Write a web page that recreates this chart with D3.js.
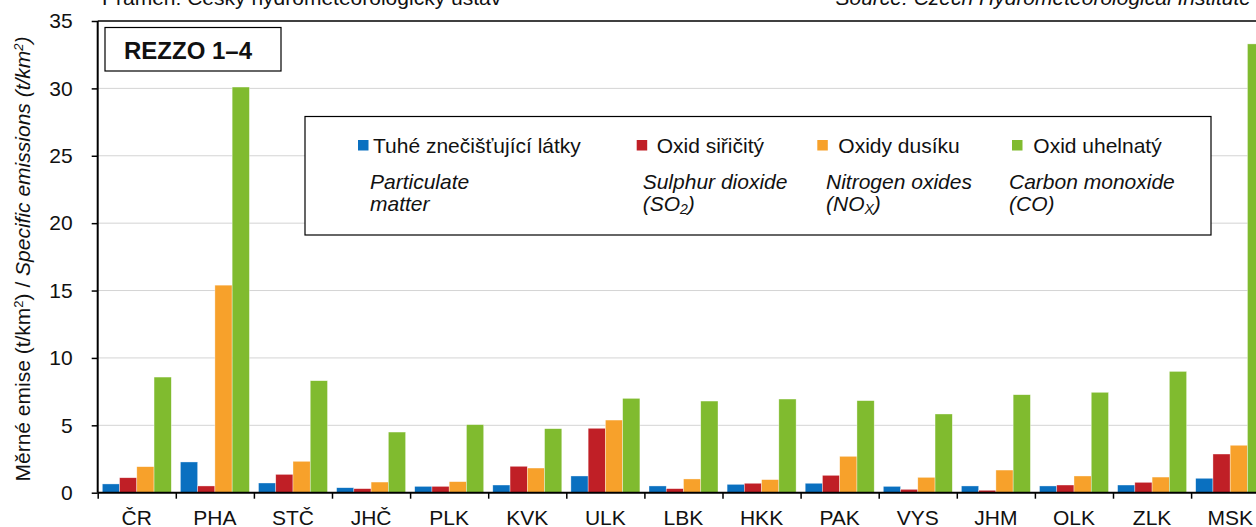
<!DOCTYPE html>
<html>
<head>
<meta charset="utf-8">
<script src="https://cdn.jsdelivr.net/npm/d3@7"></script>
<style>
  body { margin: 0; background: #fff; }
  svg { display: block; font-family: Arial, "Liberation Sans", sans-serif; }
</style>
</head>
<body>
<div id="chart"></div>
<script>
// data
const regions = ["ČR", "PHA", "STČ", "JHČ", "PLK", "KVK", "ULK", "LBK", "HKK", "PAK", "VYS", "JHM", "OLK", "ZLK", "MSK"];
const particulate = [0.65, 2.28, 0.72, 0.37, 0.47, 0.57, 1.24, 0.50, 0.62, 0.70, 0.47, 0.50, 0.50, 0.57, 1.07];
const sulphur     = [1.11, 0.50, 1.36, 0.30, 0.47, 1.96, 4.78, 0.30, 0.70, 1.29, 0.25, 0.18, 0.57, 0.77, 2.87];
const nitrogen    = [1.93, 15.4, 2.33, 0.79, 0.82, 1.83, 5.39, 1.02, 0.97, 2.70, 1.14, 1.68, 1.24, 1.16, 3.52];
const carbon      = [8.58, 30.1, 8.31, 4.50, 5.05, 4.75, 7.00, 6.80, 6.95, 6.83, 5.84, 7.27, 7.45, 9.00, 33.3];
const seriesCz = ["Tuhé znečišťující látky", "Oxid siřičitý", "Oxidy dusíku", "Oxid uhelnatý"];
const seriesEn = [["Particulate", "matter"], ["Sulphur dioxide", "(SO|2|)"], ["Nitrogen oxides", "(NO|X|)"], ["Carbon monoxide", "(CO)"]];
const colors = ["#0a70c0", "#c01f26", "#f7a12b", "#80bb2f"];
const yTicks = [0, 5, 10, 15, 20, 25, 30, 35];

const series = [particulate, sulphur, nitrogen, carbon];

// dimensions
const W = 1256, H = 527;
const margin = {top: 21, left: 97.7};
const width = 1171.5, height = 471.7;
const fs = "21px";

const svg = d3.select("#chart").append("svg")
  .attr("width", W).attr("height", H)
  .style("overflow", "hidden");

// source line (cut by the top edge, as in the original)
svg.append("text").attr("x", 102).attr("y", 5)
  .style("font-size", fs).attr("fill", "#111")
  .text("Pramen: Český hydrometeorologický ústav");
svg.append("text").attr("x", 1251).attr("y", 5)
  .attr("text-anchor", "end").style("font-size", fs).style("font-style", "italic").attr("fill", "#111")
  .text("Source: Czech Hydrometeorological Institute");

const g = svg.append("g").attr("transform", `translate(${margin.left},${margin.top})`);

// scales
const x0 = d3.scaleBand().domain(regions).range([0, width]).padding(0);
const x1 = d3.scaleBand().domain(d3.range(4)).range([4.6, x0.bandwidth() - 4.5]).padding(0);
const y = d3.scaleLinear().domain([0, 35]).range([height, 0]);
const xIdx = d3.scaleLinear().domain([0, regions.length]).range([0, width]);

// grid
g.append("g").selectAll("line")
  .data(yTicks.filter(d => d > 0 && d < 35))
  .join("line")
  .attr("x1", 0).attr("x2", width)
  .attr("y1", d => y(d)).attr("y2", d => y(d))
  .attr("stroke", "#d4d4d4").attr("stroke-width", 1);

// top border
g.append("line").attr("x1", 0).attr("x2", width).attr("y1", 0).attr("y2", 0)
  .attr("stroke", "#000").attr("stroke-width", 1.5);

// bars
const groups = g.append("g").selectAll("g")
  .data(regions)
  .join("g")
  .attr("transform", d => `translate(${x0(d)},0)`);

groups.selectAll("rect")
  .data((d, i) => series.map((s, k) => ({k, v: s[i]})))
  .join("rect")
  .attr("x", d => x1(d.k))
  .attr("width", x1.bandwidth())
  .attr("y", d => y(d.v))
  .attr("height", d => height - y(d.v))
  .attr("fill", d => colors[d.k])
  .attr("stroke", "#fff").attr("stroke-width", 0.6).attr("stroke-opacity", 0.6);

// y axis
const yAxis = g.append("g")
  .call(d3.axisLeft(y).tickValues(yTicks).tickSize(6).tickPadding(19));
yAxis.select(".domain").attr("stroke", "#000").attr("stroke-width", 2).attr("d", `M0,0V${height}`);
yAxis.selectAll(".tick line").attr("stroke", "#000").attr("stroke-width", 1.5);
yAxis.selectAll("text").style("font-size", fs).attr("fill", "#111").style("font-family", "Arial, 'Liberation Sans', sans-serif");

// x axis: tick marks between categories
const xTicks = g.append("g").attr("transform", `translate(0,${height})`)
  .call(d3.axisBottom(xIdx).tickValues(d3.range(regions.length + 1)).tickSize(6).tickFormat(""));
xTicks.select(".domain").attr("stroke", "#000").attr("stroke-width", 2).attr("d", `M0,0H${width}`);
xTicks.selectAll(".tick line").attr("stroke", "#000").attr("stroke-width", 1.5);

const xLabels = g.append("g").attr("transform", `translate(0,${height})`)
  .call(d3.axisBottom(x0).tickSize(0).tickPadding(17));
xLabels.select(".domain").remove();
xLabels.selectAll("text").style("font-size", fs).attr("fill", "#111").style("font-family", "Arial, 'Liberation Sans', sans-serif");

// y label
const yl = svg.append("text")
  .attr("transform", "translate(30,259) rotate(-90)")
  .attr("text-anchor", "middle")
  .style("font-size", "21px").attr("fill", "#111");
yl.append("tspan").text("Měrné emise (t/km");
yl.append("tspan").attr("baseline-shift", "super").style("font-size", "13px").text("2");
yl.append("tspan").text(") / ");
yl.append("tspan").style("font-style", "italic").text("Specific emissions (t/km");
yl.append("tspan").style("font-style", "italic").attr("baseline-shift", "super").style("font-size", "13px").text("2");
yl.append("tspan").style("font-style", "italic").text(")");

// REZZO box
svg.append("rect").attr("x", 105).attr("y", 27.5).attr("width", 176).attr("height", 43.5)
  .attr("fill", "#fff").attr("stroke", "#000").attr("stroke-width", 1.2);
svg.append("text").attr("x", 124).attr("y", 58.5)
  .style("font-size", "24px").style("font-weight", "bold").attr("fill", "#111")
  .text("REZZO 1–4");

// legend
svg.append("rect").attr("x", 305).attr("y", 116.5).attr("width", 906).attr("height", 118.5)
  .attr("fill", "#fff").attr("stroke", "#000").attr("stroke-width", 1.2);

const legendSq = [358, 636.7, 817.3, 1012];
const legendTx = [373, 656.7, 838.3, 1033.3];
const legendEn = [370, 642.7, 826, 1009];

seriesCz.forEach((name, k) => {
  svg.append("rect").attr("x", legendSq[k]).attr("y", 140).attr("width", 10.5).attr("height", 10.5)
    .attr("fill", colors[k]);
  svg.append("text").attr("x", legendTx[k]).attr("y", 153)
    .style("font-size", fs).attr("fill", "#111").text(name);
  seriesEn[k].forEach((line, j) => {
    const t = svg.append("text").attr("x", legendEn[k]).attr("y", 189 + j * 21.5)
      .style("font-size", fs).style("font-style", "italic").attr("fill", "#111");
    line.split("|").forEach((part, p) => {
      const ts = t.append("tspan").text(part);
      if (p === 1) ts.attr("baseline-shift", "-3px").style("font-size", "14px");
    });
  });
});
</script>
</body>
</html>
